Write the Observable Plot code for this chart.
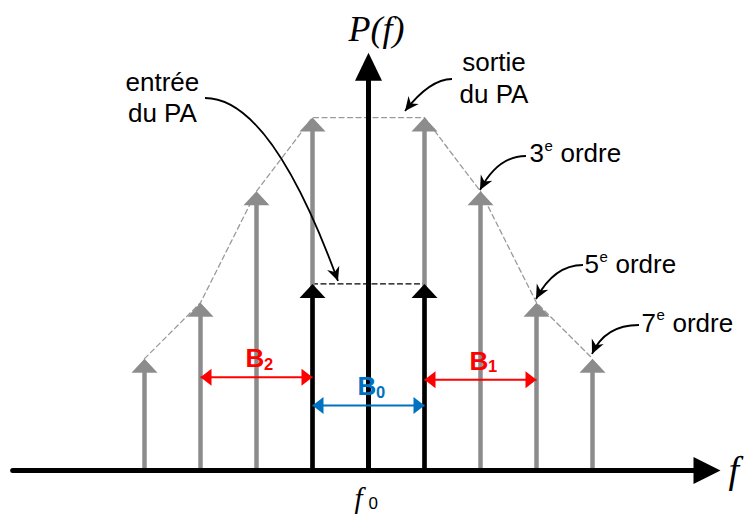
<!DOCTYPE html>
<html><head><meta charset="utf-8">
<script src="https://cdn.jsdelivr.net/npm/d3@7"></script>
<script src="https://cdn.jsdelivr.net/npm/@observablehq/plot@0.6"></script>
<style>html,body{margin:0;padding:0;background:#fff;}</style>
</head><body><div id="chart"></div>
<script>
// Spectral lines: offset k (tone spacing units around f0) and power (arbitrary units)
const spurOffsets = [-4, -3, -2, -1, 1, 2, 3, 4];
const spurPowers  = [2.38, 3.57, 5.94, 7.51, 7.51, 5.94, 3.57, 2.38];
const inputOffsets = [-1, 1];
const inputPowers  = [3.97, 3.97];
const carrierOffsets = [0];
const carrierPowers = [8.89];
// frequency axis extent (offset units)
const freqAxisExtent = [-6.345, 6.286];
// bandwidth arrows
const bandNames = ["B", "B", "B"];
const bandSubs = ["2", "0", "1"];
const bandStart = [-3, -1, 1];
const bandEnd = [-1, 1, 3];
const bandLevel = [1.985, 1.383, 1.93];
const bandColors = ["#ff0000", "#0070c0", "#ff0000"];
// annotation texts
const noteTexts = ["entrée\ndu PA", "sortie\ndu PA"];
const noteX = [-3.68, 2.241];
const noteY = [7.41, 7.815];
const orderNums = ["3", "5", "7"];
const orderX = [2.875, 3.857, 4.875];
const orderY = [6.56, 4.20, 2.95];
// leader curves (start, control, tip)
const leaderStartX = [-2.911, 1.5, 2.821, 3.839, 4.839];
const leaderStartY = [7.915, 8.319, 6.681, 4.362, 3.085];
const leaderCtrlX  = [-1.732, 1.107, 2.321, 3.321, 4.232];
const leaderCtrlY  = [7.915, 8.319, 6.681, 4.362, 3.085];
const leaderTipX   = [-0.536, 0.661, 2.0, 3.0, 4.0];
const leaderTipY   = [4.021, 7.638, 5.957, 3.638, 2.468];

const GRAY = "#8c8c8c";
const SANS = "Liberation Sans, Arial, sans-serif";
const SERIF = "Liberation Serif, Times New Roman, serif";

const spurs = spurOffsets.map((k, i) => ({k, p: spurPowers[i]}));
const inputs = inputOffsets.map((k, i) => ({k, p: inputPowers[i]}));
const carrier = carrierOffsets.map((k, i) => ({k, p: carrierPowers[i]}));
const bands = bandNames.map((n, i) => ({n, sub: bandSubs[i], a: bandStart[i], b: bandEnd[i], y: bandLevel[i], c: bandColors[i], m: (bandStart[i] + bandEnd[i]) / 2}));
const notes = noteTexts.map((t, i) => ({t, x: noteX[i], y: noteY[i]}));
const orders = orderNums.map((t, i) => ({t, x: orderX[i], y: orderY[i]}));
const leaders = leaderStartX.map((sx, i) => ({sx, sy: leaderStartY[i], cx: leaderCtrlX[i], cy: leaderCtrlY[i], tx: leaderTipX[i], ty: leaderTipY[i]}));

// triangle arrow head with its tip at the origin, pointing up
const head = (w, h) => ({draw(ctx) { ctx.moveTo(0, 0); ctx.lineTo(w / 2, h); ctx.lineTo(-w / 2, h); ctx.closePath(); }});

const leaderMark = (index, scales) => {
  const {x, y} = scales;
  const g = d3.create("svg:g");
  for (const L of leaders) {
    const sx = x(L.sx), sy = y(L.sy), cx = x(L.cx), cy = y(L.cy), tx = x(L.tx), ty = y(L.ty);
    const ang = Math.atan2(ty - cy, tx - cx) * 180 / Math.PI;
    g.append("path").attr("d", `M${sx},${sy}Q${cx},${cy} ${tx},${ty}`)
      .attr("fill", "none").attr("stroke", "black").attr("stroke-width", 1.8);
    g.append("path").attr("d", "M0,0L-14,-6.5L-9.5,0L-14,6.5Z")
      .attr("transform", `translate(${tx},${ty}) rotate(${ang})`).attr("fill", "black");
  }
  return g.node();
};

const plot = Plot.plot({
  width: 745,
  height: 514,
  marginTop: 0, marginRight: 0, marginLeft: 0, marginBottom: 44,
  x: {domain: [-368 / 56, 377 / 56], axis: null},
  y: {domain: [0, 10], axis: null},
  style: {background: "white", overflow: "visible"},
  marks: [
    // envelope (dashed)
    Plot.line(spurs, {x: "k", y: "p", stroke: "#9a9a9a", strokeWidth: 1.3, strokeDasharray: "5,3.5"}),
    Plot.line(inputs, {x: "k", y: "p", stroke: "black", strokeWidth: 1.3, strokeDasharray: "5,3.5"}),
    // gray spectral lines
    Plot.ruleX(spurs, {x: "k", y1: 0, y2: d => d.p - 0.1, stroke: GRAY, strokeWidth: 4.5}),
    Plot.dot(spurs, {x: "k", y: "p", symbol: head(26, 14), fill: GRAY, stroke: "none"}),
    // input tones
    Plot.ruleX(inputs, {x: "k", y1: 0, y2: d => d.p - 0.1, stroke: "black", strokeWidth: 4.5}),
    Plot.dot(inputs, {x: "k", y: "p", symbol: head(26, 14), fill: "black", stroke: "none"}),
    // horizontal frequency axis
    Plot.ruleY([0], {x1: freqAxisExtent[0], x2: freqAxisExtent[1] - 0.3, stroke: "black", strokeWidth: 5, strokeLinecap: "round"}),
    Plot.dot([0], {x: freqAxisExtent[1], y: 0, symbol: head(27, 27), rotate: 90, fill: "black", stroke: "none"}),
    // vertical axis (carrier)
    Plot.ruleX(carrier, {x: "k", y1: 0, y2: d => d.p - 0.3, stroke: "black", strokeWidth: 5}),
    Plot.dot(carrier, {x: "k", y: "p", symbol: head(27, 28), fill: "black", stroke: "none"}),
    // bandwidth arrows
    Plot.link(bands, {x1: "a", x2: "b", y1: "y", y2: "y", stroke: "c", strokeWidth: 2}),
    Plot.dot(bands, {x: "a", y: "y", symbol: head(17, 11), rotate: -90, fill: "c", stroke: "none"}),
    Plot.dot(bands, {x: "b", y: "y", symbol: head(17, 11), rotate: 90, fill: "c", stroke: "none"}),
    Plot.text(bands, {x: "m", y: "y", text: "n", fill: "c", dx: -11, dy: -10, textAnchor: "start", lineAnchor: "bottom", fontSize: 26, fontWeight: "bold", fontFamily: SANS}),
    Plot.text(bands, {x: "m", y: "y", text: "sub", fill: "c", dx: 7.5, dy: -7.5, textAnchor: "start", lineAnchor: "bottom", fontSize: 16.5, fontWeight: "bold", fontFamily: SANS}),
    // annotation texts
    Plot.text(notes, {x: "x", y: "y", text: "t", textAnchor: "middle", lineAnchor: "bottom", lineHeight: 1.22, fontSize: 26, fontFamily: SANS, fill: "black"}),
    Plot.text(orders, {x: "x", y: "y", text: "t", textAnchor: "start", lineAnchor: "bottom", fontSize: 26, fontFamily: SANS, fill: "black"}),
    Plot.text(orders, {x: "x", y: "y", text: () => "e", dx: 15, dy: -11.5, textAnchor: "start", lineAnchor: "bottom", fontSize: 15, fontFamily: SANS, fill: "black"}),
    Plot.text(orders, {x: "x", y: "y", text: () => "ordre", dx: 31, textAnchor: "start", lineAnchor: "bottom", fontSize: 26, fontFamily: SANS, fill: "black"}),
    // axis labels
    Plot.text(carrier, {x: "k", y: "p", text: () => "P(f)", dx: 8, dy: -12, textAnchor: "middle", lineAnchor: "bottom", fontSize: 36, fontStyle: "italic", fontFamily: SERIF, fill: "black"}),
    Plot.text([0], {x: freqAxisExtent[1], y: 0, text: () => "f", dx: 8, dy: 12, textAnchor: "start", lineAnchor: "bottom", fontSize: 38, fontStyle: "italic", fontFamily: SERIF, fill: "black"}),
    Plot.text(carrier, {x: "k", y: 0, text: () => "f", dx: -14, dy: 37.5, textAnchor: "start", lineAnchor: "bottom", fontSize: 29, fontStyle: "italic", fontFamily: SERIF, fill: "black"}),
    Plot.text(carrier, {x: "k", y: 0, text: () => "0", dx: 0, dy: 38, textAnchor: "start", lineAnchor: "bottom", fontSize: 17, fontFamily: SANS, fill: "black"}),
    // leader curves
    leaderMark
  ]
});
document.getElementById("chart").appendChild(plot);
</script>
</body></html>
